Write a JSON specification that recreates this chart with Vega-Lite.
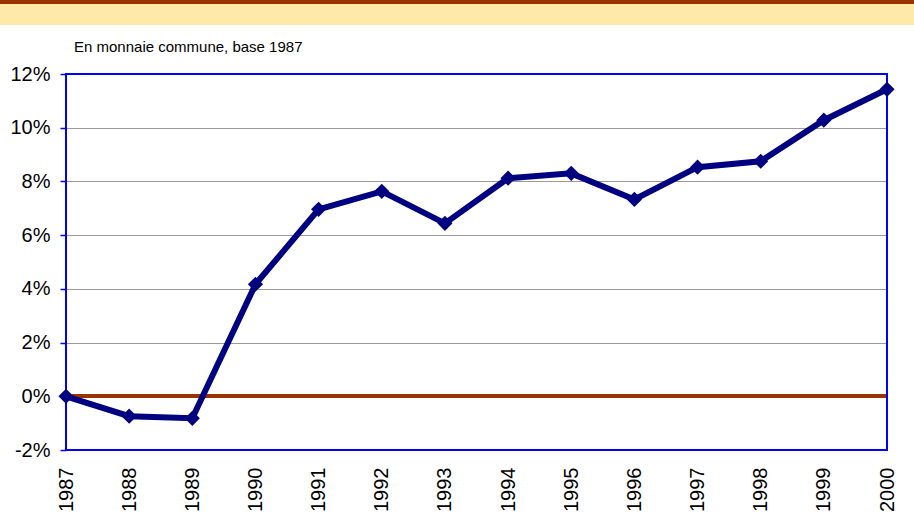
{
  "$schema": "https://vega.github.io/schema/vega-lite/v6.json",
  "autosize": {"type": "none"},
  "padding": {"left": 66, "top": 74, "right": 27, "bottom": 81},
  "width": 821,
  "height": 376,
  "background": "#ffffff",
  "config": {
    "font": "Liberation Sans",
    "view": {"stroke": null}
  },
  "title": {
    "text": "En monnaie commune, base 1987",
    "anchor": "start",
    "frame": "group",
    "fontSize": 15,
    "fontWeight": "normal",
    "font": "Liberation Sans",
    "color": "#000000",
    "baseline": "alphabetic",
    "dx": 8,
    "offset": -71
  },
  "data": {
    "values": [
      {"annee": 1987, "valeur": 0.0},
      {"annee": 1988, "valeur": -0.74},
      {"annee": 1989, "valeur": -0.82},
      {"annee": 1990, "valeur": 4.17},
      {"annee": 1991, "valeur": 6.96},
      {"annee": 1992, "valeur": 7.63},
      {"annee": 1993, "valeur": 6.44},
      {"annee": 1994, "valeur": 8.12},
      {"annee": 1995, "valeur": 8.30},
      {"annee": 1996, "valeur": 7.33},
      {"annee": 1997, "valeur": 8.53},
      {"annee": 1998, "valeur": 8.75},
      {"annee": 1999, "valeur": 10.28},
      {"annee": 2000, "valeur": 11.43}
    ]
  },
  "layer": [
    {
      "mark": {"type": "rect", "color": "#FFE9A9", "clip": false},
      "encoding": {
        "x": {"datum": 1985.8, "type": "quantitative"},
        "x2": {"datum": 2000.6},
        "y": {"datum": 14.9, "type": "quantitative"},
        "y2": {"datum": 13.82}
      }
    },
    {
      "mark": {"type": "rect", "color": "#993300", "clip": false},
      "encoding": {
        "x": {"datum": 1985.8, "type": "quantitative"},
        "x2": {"datum": 2000.6},
        "y": {"datum": 14.9, "type": "quantitative"},
        "y2": {"datum": 14.61}
      }
    },
    {
      "mark": {"type": "rule", "color": "#993300", "strokeWidth": 3},
      "encoding": {
        "y": {"datum": 0, "type": "quantitative"}
      }
    },
    {
      "mark": {"type": "rect", "fill": null, "fillOpacity": 0, "stroke": "#0000ff", "strokeWidth": 2, "clip": false},
      "encoding": {
        "x": {"datum": 1987, "type": "quantitative"},
        "x2": {"datum": 2000},
        "y": {"datum": -2, "type": "quantitative"},
        "y2": {"datum": 12}
      }
    },
    {
      "mark": {"type": "line", "color": "#000080", "strokeWidth": 6, "strokeJoin": "miter"},
      "encoding": {
        "x": {
          "field": "annee",
          "type": "quantitative",
          "scale": {"domain": [1987, 2000], "nice": false, "zero": false},
          "axis": {
            "title": null,
            "values": [1987, 1988, 1989, 1990, 1991, 1992, 1993, 1994, 1995, 1996, 1997, 1998, 1999, 2000],
            "format": "d",
            "labelAngle": 270,
            "labelFontSize": 20,
            "labelColor": "#000000",
            "labelPadding": 17,
            "ticks": false,
            "tickSize": 0,
            "domain": false,
            "grid": false,
            "labelOverlap": false,
            "labelFlush": false
          }
        },
        "y": {
          "field": "valeur",
          "type": "quantitative",
          "scale": {"domain": [-2, 12], "nice": false, "zero": false},
          "axis": {
            "title": null,
            "values": [-2, 0, 2, 4, 6, 8, 10, 12],
            "labelExpr": "datum.value + '%'",
            "labelFontSize": 20,
            "labelColor": "#000000",
            "labelPadding": 10,
            "tickSize": 6,
            "tickColor": "#0000ff",
            "tickWidth": 1.5,
            "domain": false,
            "grid": true,
            "gridColor": "#9a9a9a",
            "gridWidth": 1,
            "gridOpacity": 1,
            "labelOverlap": false,
            "labelFlush": false
          }
        }
      }
    },
    {
      "mark": {"type": "point", "shape": "diamond", "filled": true, "color": "#000080", "size": 230, "opacity": 1},
      "encoding": {
        "x": {"field": "annee", "type": "quantitative"},
        "y": {"field": "valeur", "type": "quantitative"}
      }
    }
  ]
}
